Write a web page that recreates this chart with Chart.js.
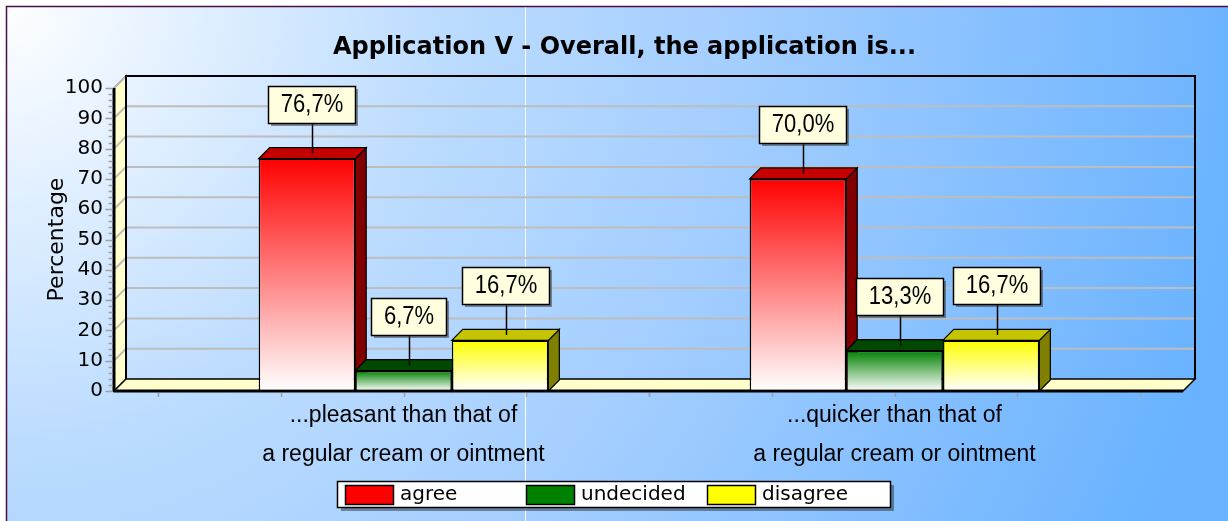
<!DOCTYPE html>
<html>
<head>
<meta charset="utf-8">
<title>Application V - Overall, the application is...</title>
<script src="https://cdn.jsdelivr.net/npm/chart.js@4.4.1/dist/chart.umd.min.js"></script>
<style>
    html, body { margin: 0; padding: 0; background: #fff; }
    canvas { display: block; }
</style>
</head>
<body>
<canvas id="appChart" width="1228" height="521"></canvas>
<script>
const TITLE = "Application V - Overall, the application is...";
const Y_TITLE = "Percentage";
const CATEGORIES = [
    ["...pleasant than that of", "a regular cream or ointment"],
    ["...quicker than that of", "a regular cream or ointment"]
];
const SERIES = ["agree", "undecided", "disagree"];
const AGREE = [76.7, 70.0];
const UNDECIDED = [6.7, 13.3];
const DISAGREE = [16.7, 16.7];
const VALUES = [AGREE, UNDECIDED, DISAGREE];
const Y_MIN = 0, Y_MAX = 100, Y_STEP = 10;

// colours of the three bar faces
const FRONT = ["#ff0000", "#008000", "#ffff00"];
const TOP = ["#c40000", "#004800", "#c4c400"];
const SIDE = ["#800000", "#003000", "#808000"];
const DEPTH = 11;   // bar depth
const WALL = 12;    // depth of the walls and floor

function fmt(v) {
    return v.toFixed(1).replace(".", ",") + "%";
}

function frontFill(i) {
    return function(c) {
        const chart = c.chart;
        if (c.type !== "data" || !chart.chartArea) return FRONT[i];
        const y = chart.scales.y;
        const g = chart.ctx.createLinearGradient(0, y.getPixelForValue(c.raw), 0, y.getPixelForValue(0));
        g.addColorStop(0, FRONT[i]);
        g.addColorStop(1, "#ffffff");
        return g;
    };
}

function poly(ctx, pts, fill, stroke, lw) {
    ctx.beginPath();
    pts.forEach((p, k) => k ? ctx.lineTo(p[0], p[1]) : ctx.moveTo(p[0], p[1]));
    ctx.closePath();
    ctx.fillStyle = fill;
    ctx.fill();
    ctx.strokeStyle = stroke;
    ctx.lineWidth = lw;
    ctx.stroke();
}

const backdrop = {
    id: "backdrop",
    beforeDraw(chart) {
        const ctx = chart.ctx, w = chart.width, h = chart.height;
        ctx.save();
        ctx.fillStyle = "#ffffff";
        ctx.fillRect(0, 0, w, h);
        const g = ctx.createRadialGradient(0, 0, 0, 0, 0, 1260);
        g.addColorStop(0, "#ffffff");
        g.addColorStop(0.35, "#bcdcff");
        g.addColorStop(0.6, "#a2cdff");
        g.addColorStop(1, "#69b2ff");
        ctx.fillStyle = g;
        ctx.fillRect(7, 7, w - 7, h - 7);
        ctx.fillStyle = "#ffffff";
        ctx.fillRect(525, 7, 1, h - 7);
        ctx.strokeStyle = "#4a0f46";
        ctx.lineWidth = 1.5;
        ctx.beginPath();
        ctx.moveTo(6.5, h);
        ctx.lineTo(6.5, 6.5);
        ctx.lineTo(w, 6.5);
        ctx.stroke();
        ctx.restore();
    }
};

const box3d = {
    id: "box3d",
    beforeDatasetsDraw(chart) {
        const ctx = chart.ctx, a = chart.chartArea, x = chart.scales.x, y = chart.scales.y;
        const L = a.left - 44, R = a.right + 43, D = WALL;
        const B = y.getPixelForValue(Y_MIN), T = y.getPixelForValue(Y_MAX);
        ctx.save();
        // left wall
        poly(ctx, [[L, B], [L, T], [L + D, T - D], [L + D, B - D]], "#ffffcc", "#000", 1.5);
        // grid lines across left wall and back wall
        ctx.strokeStyle = "#bdbdbd";
        ctx.lineWidth = 2;
        y.ticks.forEach(t => {
            const yy = y.getPixelForValue(t.value);
            ctx.beginPath();
            ctx.moveTo(L, yy);
            ctx.lineTo(L + D, yy - D);
            ctx.lineTo(R + D, yy - D);
            ctx.stroke();
        });
        // back wall outline
        ctx.strokeStyle = "#000";
        ctx.lineWidth = 2;
        ctx.beginPath();
        ctx.moveTo(L + D, B - D);
        ctx.lineTo(L + D, T - D);
        ctx.lineTo(R + D, T - D);
        ctx.lineTo(R + D, B - D);
        ctx.stroke();
        // floor
        poly(ctx, [[L, B], [R, B], [R + D, B - D], [L + D, B - D]], "#ffffcc", "#000", 1.5);
        ctx.lineWidth = 3;
        ctx.beginPath();
        ctx.moveTo(L, B);
        ctx.lineTo(R, B);
        ctx.moveTo(L, T);
        ctx.lineTo(L, B);
        ctx.stroke();
        // y tick marks
        ctx.strokeStyle = "#a0a0a0";
        ctx.lineWidth = 1.5;
        for (let v = Y_MIN; v <= Y_MAX; v += Y_STEP / 5) {
            const yy = Math.round(y.getPixelForValue(v)) + 0.5;
            const len = v % Y_STEP === 0 ? 7 : 4;
            ctx.beginPath();
            ctx.moveTo(L - 1.5 - len, yy);
            ctx.lineTo(L - 1.5, yy);
            ctx.stroke();
        }
        // x tick marks
        const cw = x.width / CATEGORIES.length;
        CATEGORIES.forEach((c, j) => {
            const cx = x.getPixelForValue(j);
            for (let k = -2; k <= 2; k++) {
                const xx = Math.round(cx + k * cw / 4) + 0.5;
                ctx.beginPath();
                ctx.moveTo(xx, B + 2);
                ctx.lineTo(xx, B + 6);
                ctx.stroke();
            }
        });
        // bar tops and sides
        CATEGORIES.forEach((c, j) => {
            SERIES.forEach((s, i) => {
                const bar = chart.getDatasetMeta(i).data[j];
                const l = bar.x - bar.width / 2, r = bar.x + bar.width / 2, t = bar.y, b = bar.base;
                poly(ctx, [[r, t], [r + DEPTH, t - DEPTH], [r + DEPTH, b - DEPTH], [r, b]], SIDE[i], "#000", 1.2);
                poly(ctx, [[l, t], [r, t], [r + DEPTH, t - DEPTH], [l + DEPTH, t - DEPTH]], TOP[i], "#000", 1.2);
            });
        });
        ctx.restore();
    },
    afterDatasetsDraw(chart) {
        const ctx = chart.ctx;
        const squeeze = 0.88;
        ctx.save();
        ctx.font = "25px 'Liberation Sans'";
        ctx.textAlign = "center";
        ctx.textBaseline = "middle";
        CATEGORIES.forEach((c, j) => {
            SERIES.forEach((s, i) => {
                const bar = chart.getDatasetMeta(i).data[j];
                const text = fmt(VALUES[i][j]);
                const bw = Math.round(ctx.measureText(text).width * squeeze + 25), bh = 37;
                const cx = Math.round(bar.x + DEPTH / 2);
                const bottom = Math.round(bar.y - 36), top = bottom - bh;
                const left = cx - Math.round(bw / 2);
                ctx.strokeStyle = "#000";
                ctx.lineWidth = 1.5;
                ctx.beginPath();
                ctx.moveTo(cx + 0.5, bottom);
                ctx.lineTo(cx + 0.5, bar.y - DEPTH / 2);
                ctx.stroke();
                ctx.fillStyle = "rgba(60,60,60,0.55)";
                ctx.fillRect(left + 3, top + 3, bw, bh);
                ctx.fillStyle = "#ffffe0";
                ctx.fillRect(left, top, bw, bh);
                ctx.strokeRect(left + 0.5, top + 0.5, bw, bh);
                ctx.fillStyle = "#000";
                ctx.save();
                ctx.translate(cx, top + bh / 2 + 1);
                ctx.scale(squeeze, 1);
                ctx.fillText(text, 0, 0);
                ctx.restore();
            });
        });
        ctx.restore();
    }
};

const legendBox = {
    id: "legendBox",
    afterDraw(chart) {
        const ctx = chart.ctx;
        const colW = 181, w = 553, h = 26;
        const left = Math.round(chart.width / 2 - 277), top = 481;
        ctx.save();
        ctx.fillStyle = "rgba(40,50,60,0.5)";
        ctx.fillRect(left + 4, top + 4, w, h);
        ctx.fillStyle = "#ffffff";
        ctx.fillRect(left, top, w, h);
        ctx.strokeStyle = "#000";
        ctx.lineWidth = 1.5;
        ctx.strokeRect(left + 0.5, top + 0.5, w, h);
        ctx.font = "20px 'DejaVu Sans'";
        ctx.textBaseline = "middle";
        SERIES.forEach((s, i) => {
            const sx = left + 8 + i * colW;
            ctx.fillStyle = FRONT[i];
            ctx.fillRect(sx, top + 4, 48, 19);
            ctx.strokeRect(sx + 0.5, top + 4.5, 48, 19);
            ctx.fillStyle = "#000";
            ctx.fillText(s, sx + 55, top + h / 2 + 1);
        });
        ctx.restore();
    }
};

new Chart(document.getElementById("appChart").getContext("2d"), {
    type: "bar",
    data: {
        labels: CATEGORIES,
        datasets: SERIES.map((name, i) => ({
            label: name,
            data: VALUES[i],
            backgroundColor: frontFill(i),
            borderColor: "#000",
            borderWidth: 1.5,
            borderSkipped: false,
            categoryPercentage: 0.59,
            barPercentage: 1
        }))
    },
    options: {
        responsive: false,
        animation: false,
        layout: { padding: { left: 21, right: 0, top: 0, bottom: 30 } },
        plugins: {
            legend: { display: false },
            tooltip: { enabled: false },
            title: {
                display: true,
                text: TITLE,
                color: "#000",
                font: { family: "DejaVu Sans", size: 24, weight: "bold" },
                padding: { top: 33, bottom: 26.2 }
            }
        },
        scales: {
            x: {
                grid: { display: false, drawTicks: false },
                border: { display: false },
                ticks: {
                    color: "#000",
                    padding: 5,
                    maxRotation: 0,
                    autoSkip: false,
                    font: { family: "Liberation Sans", size: 23, lineHeight: 1.7 }
                },
                afterFit(s) { s.height = 100; }
            },
            y: {
                min: Y_MIN,
                max: Y_MAX,
                grid: { display: false, drawTicks: false },
                border: { display: false },
                ticks: {
                    stepSize: Y_STEP,
                    padding: 55,
                    color: "#000",
                    font: { family: "DejaVu Sans", size: 20 }
                },
                title: {
                    display: true,
                    text: Y_TITLE,
                    color: "#000",
                    font: { family: "DejaVu Sans", size: 22 },
                    padding: { top: 23, bottom: 0 }
                },
                afterFit(s) { s.width = 137; }
            },
            pad: {
                type: "linear",
                position: "right",
                grid: { display: false, drawTicks: false },
                border: { display: false },
                ticks: { display: false },
                afterFit(s) { s.width = 88; }
            }
        }
    },
    plugins: [backdrop, box3d, legendBox]
});
</script>
</body>
</html>
